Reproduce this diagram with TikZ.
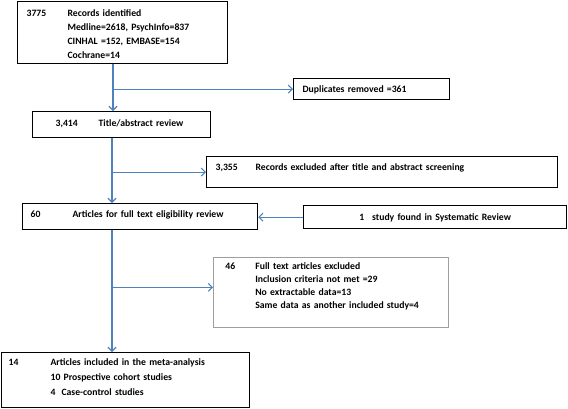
\documentclass[tikz,border=0pt]{standalone}
\usepackage{fontspec}
\setmainfont{Carlito}
\usepackage{tikz}
\usetikzlibrary{arrows.meta}
\definecolor{flowblue}{RGB}{79,129,189}
\newcommand{\cnt}[2]{\makebox[#1][l]{#2}}

\begin{document}
\begin{tikzpicture}[x=1pt, y=-1pt,
  box/.style={draw, line width=1.2pt, anchor=north west, align=left, inner ysep=0pt,
    font=\fontsize{9.7}{14}\selectfont\bfseries},
  link/.style={draw=flowblue, line width=1.1pt, -{Straight Barb[length=4pt,width=8pt]}}]
\useasboundingbox (0,0) rectangle (568,408);

% boxes
\node[box, inner xsep=9pt, text width=192pt, text height=15pt, text depth=47.5pt] (rec) at (17,0.6)
  {\cnt{41pt}{3775}Records identified\\ \cnt{41pt}{}Medline=2618, PsychInfo=837\\
   \cnt{41pt}{}CINHAL =152, EMBASE=154\\ \cnt{41pt}{}Cochrane=14};
\node[box, inner xsep=9pt, text width=138pt, text height=14pt, text depth=7pt] (dup) at (293,78)
  {Duplicates removed =361};
\node[box, inner xsep=23pt, text width=132pt, text height=15pt, text depth=11pt] (title) at (32,111)
  {\cnt{43pt}{3,414}Title/abstract review};
\node[box, inner xsep=9pt, text width=333pt, text height=14pt, text depth=17pt] (excl) at (206,156)
  {\cnt{40pt}{3,355}Records excluded after title and abstract screening};
\node[box, inner xsep=8pt, text width=219pt, text height=14pt, text depth=12pt] (full) at (22,203)
  {\cnt{42pt}{60}Articles for full text eligibility review};
\node[box, align=center, inner xsep=8pt, text width=247pt, text height=15pt, text depth=8pt] (sys) at (303,205)
  {1\hspace{8pt}study found in Systematic Review};
\node[box, draw=gray!75, line width=0.7pt, inner xsep=12pt, text width=211pt, text height=12pt, text depth=58pt,
  font=\fontsize{9.7}{13}\selectfont\bfseries] (excl2) at (213,257)
  {\cnt{30pt}{46}Full text articles excluded\\ \cnt{30pt}{}Inclusion criteria not met =29\\
   \cnt{30pt}{}No extractable data=13\\ \cnt{30pt}{}Same data as another included study=4};
\node[box, inner xsep=7pt, text width=234pt, text height=13pt, text depth=41.5pt,
  font=\fontsize{9.7}{15}\selectfont\bfseries] (incl) at (1,352)
  {\cnt{42pt}{14}Articles included in the meta-analysis\\ \cnt{42pt}{}10 Prospective cohort studies\\
   \cnt{42pt}{}4\hspace{6pt}Case-control studies};

% connectors
\coordinate (sx) at (113,0);
\coordinate (sy) at (112,0);
\draw[link] (rec.south -| sx) -- (title.north -| sx);
\draw[link] (sx |- dup.west) -- (dup.west);
\draw[link] (title.south -| sy) -- (full.north -| sy);
\draw[link] (sy |- excl.west) -- (excl.west);
\draw[link] (sys.west) -- (full.east |- sys.west);
\draw[link] (full.south -| sy) -- (incl.north -| sy);
\draw[link] (sy |- excl2.west) ++(0,-5) -- ([yshift=5pt]excl2.west);
\end{tikzpicture}
\end{document}
